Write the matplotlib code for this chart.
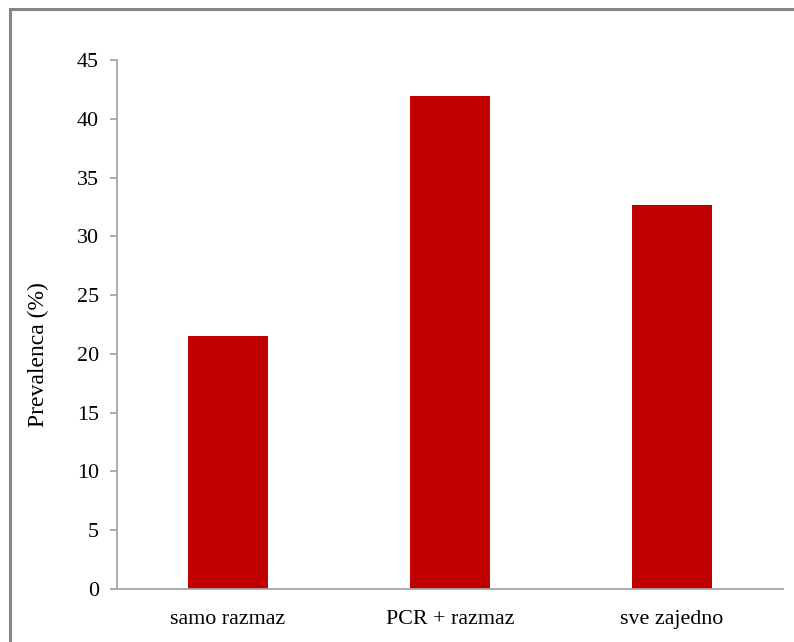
import matplotlib.pyplot as plt
from matplotlib.patches import Rectangle

categories = ['samo razmaz', 'PCR + razmaz', 'sve zajedno']
prevalence = [21.5, 41.9, 32.7]
yticks = [0, 5, 10, 15, 20, 25, 30, 35, 40, 45]

plt.rcParams['font.family'] = ['Liberation Serif', 'DejaVu Serif']

fig = plt.figure(figsize=(7.94, 6.42), dpi=100)
ax = fig.add_axes([117 / 794, 53 / 642, 666 / 794, 529 / 642])

x = list(range(len(categories)))
ax.bar(x, prevalence, width=0.36, color='#C00000')
ax.set_xlim(-0.5, len(categories) - 0.5)
ax.set_ylim(0, 45)
ax.set_yticks(yticks)
ax.set_xticks(x)
ax.set_xticklabels(categories)

fs = 15.8
axis_col = '#a6a6a6'
for side in ['top', 'right']:
    ax.spines[side].set_visible(False)
for side in ['left', 'bottom']:
    ax.spines[side].set_color(axis_col)
    ax.spines[side].set_linewidth(1.3)
ax.tick_params(axis='y', colors=axis_col, labelcolor='black', labelsize=fs,
               length=5, width=1.3, pad=8)
ax.tick_params(axis='x', length=0, labelsize=fs, pad=15)

# y label sits a bit below the middle of the axis
fig.text(38 / 794, 1 - 355 / 642, 'Prevalenca (%)', fontsize=17, rotation=90,
         ha='center', va='center')

# outer chart frame, clipped at the right and bottom edges
frame = Rectangle((9.5 / 794, -0.1), 1.2, 1.1 - 8.5 / 642, transform=fig.transFigure,
                  fill=False, edgecolor='#858585', linewidth=2.2)
fig.patches.append(frame)

fig.savefig('out.png', dpi=100)
